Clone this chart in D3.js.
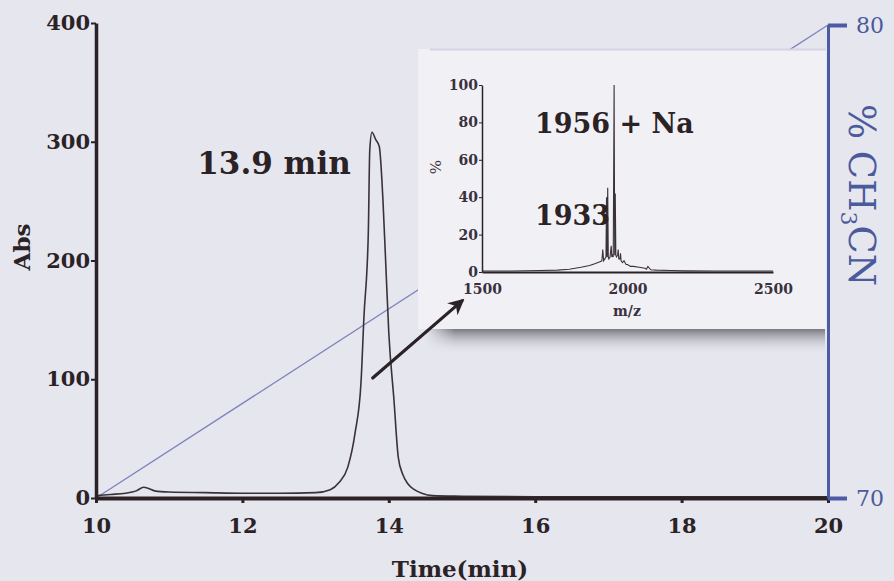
<!DOCTYPE html>
<html>
<head>
<meta charset="utf-8">
<script src="https://cdn.jsdelivr.net/npm/d3@7"></script>
<style>
  html, body { margin: 0; padding: 0; background: #e6e6ee; }
  svg { display: block; }
</style>
</head>
<body>
<svg id="chart" width="894" height="581"></svg>
<script>
// HPLC trace (Abs vs time)
const timeMin = [10.0, 10.2, 10.4, 10.55, 10.65, 10.72, 10.8, 11.0, 11.5, 12.0, 12.5, 13.0, 13.2, 13.32, 13.44, 13.54, 13.62, 13.66, 13.72, 13.74, 13.77, 13.82, 13.87, 13.92, 13.96, 14.0, 14.07, 14.13, 14.19, 14.26, 14.35, 14.45, 14.6, 15.0, 16.0, 17.0, 18.0, 19.0, 20.0];
const absVal  = [2, 3, 4, 6, 9, 8, 6, 5, 4.5, 4, 4, 4.5, 7, 13, 26, 55, 97, 152, 223, 293, 308, 302, 296, 251, 195, 139, 83, 34, 20, 12, 7, 4, 2, 1.5, 1, 1, 1, 1, 1];

// gradient (% CH3CN)
const gradTime = [10, 20];
const gradPct = [70, 80];

// axes ticks
const timeTicks = [10, 12, 14, 16, 18, 20];
const absTicks = [0, 100, 200, 300, 400];
const pctTicks = [70, 80];

// inset mass spectrum
const mzVal  = [1500, 1600, 1700, 1760, 1800, 1840, 1870, 1890, 1905, 1912, 1915, 1918, 1922, 1926, 1928, 1930, 1932, 1934, 1936, 1940, 1944, 1946, 1948, 1951, 1954, 1956, 1958, 1960, 1962, 1966, 1968, 1970, 1974, 1976, 1978, 1983, 1988, 1995, 2000, 2010, 2020, 2040, 2060, 2065, 2070, 2080, 2100, 2150, 2200, 2300, 2500];
const relInt = [0.5, 0.5, 0.8, 1.0, 1.5, 2.5, 3.5, 4.5, 5.5, 6, 12, 6, 7, 8, 40, 8, 45, 8, 7, 8, 14, 8, 9, 8, 100, 9, 42, 9, 8, 9, 12, 7, 7, 10, 6, 5, 6, 4, 4, 3, 3, 2.5, 2, 1.5, 3, 1.2, 1, 0.8, 0.6, 0.5, 0.5];
const mzTicks = [1500, 2000, 2500];
const intTicks = [0, 20, 40, 60, 80, 100];

const svg = d3.select("#chart");
const ink = "#2b2226";
const blue = "#4d5aa4";
const serif = "'DejaVu Serif', serif";

svg.append("rect").attr("width", 894).attr("height", 581).attr("fill", "#e6e6ee");

const x = d3.scaleLinear().domain([10, 20]).range([96, 828]);
const y = d3.scaleLinear().domain([0, 400]).range([498, 23]);
const yR = d3.scaleLinear().domain([70, 80]).range([498, 25]);

// gradient line (behind inset)
svg.append("path")
  .datum(d3.zip(gradTime, gradPct))
  .attr("fill", "none")
  .attr("stroke", "#7d83bd")
  .attr("stroke-width", 1.3)
  .attr("d", d3.line().x(d => x(d[0])).y(d => yR(d[1])));

// inset panel
const defs = svg.append("defs");
const sh = defs.append("linearGradient").attr("id", "shadow").attr("x1", 0).attr("y1", 0).attr("x2", 0).attr("y2", 1);
sh.append("stop").attr("offset", "0%").attr("stop-color", "#55555f").attr("stop-opacity", 0.75);
sh.append("stop").attr("offset", "100%").attr("stop-color", "#e6e6ee").attr("stop-opacity", 0);
const shl = defs.append("linearGradient").attr("id", "shadowL").attr("x1", 0).attr("y1", 0).attr("x2", 1).attr("y2", 0);
shl.append("stop").attr("offset", "0%").attr("stop-color", "#e6e6ee").attr("stop-opacity", 1);
shl.append("stop").attr("offset", "100%").attr("stop-color", "#e6e6ee").attr("stop-opacity", 0);

svg.append("rect").attr("x", 425).attr("y", 329).attr("width", 400).attr("height", 26).attr("fill", "url(#shadow)");
svg.append("rect").attr("x", 425).attr("y", 329).attr("width", 30).attr("height", 26).attr("fill", "url(#shadowL)");
svg.append("rect").attr("x", 418).attr("y", 49).attr("width", 408).attr("height", 280).attr("fill", "#f1f1f5");
svg.append("line").attr("x1", 430).attr("x2", 826).attr("y1", 49.5).attr("y2", 49.5).attr("stroke", "#d4d4e6").attr("stroke-width", 2);

// main trace
svg.append("path")
  .datum(d3.zip(timeMin, absVal))
  .attr("fill", "none")
  .attr("stroke", "#3b3238")
  .attr("stroke-width", 1.6)
  .attr("d", d3.line().x(d => x(d[0])).y(d => y(d[1])).curve(d3.curveMonotoneX));

// left axis
const gl = svg.append("g").attr("transform", "translate(96,0)")
  .call(d3.axisLeft(y).tickValues(absTicks).tickSize(5).tickSizeOuter(0).tickPadding(1));
gl.select(".domain").attr("stroke", ink).attr("stroke-width", 3.5);
gl.selectAll(".tick line").attr("stroke", ink).attr("stroke-width", 2);
gl.selectAll(".tick text").attr("fill", ink).attr("font-family", serif).attr("font-weight", "bold").attr("font-size", 21);

// bottom axis
const gb = svg.append("g").attr("transform", "translate(0,498)")
  .call(d3.axisBottom(x).tickValues(timeTicks).tickSize(5).tickSizeOuter(0).tickPadding(15));
gb.select(".domain").attr("stroke", ink).attr("stroke-width", 4);
gb.selectAll(".tick line").attr("stroke", ink).attr("stroke-width", 3);
gb.selectAll(".tick text").attr("fill", ink).attr("font-family", serif).attr("font-weight", "bold").attr("font-size", 21);

// right axis
const gr = svg.append("g").attr("transform", "translate(828,0)")
  .call(d3.axisRight(yR).tickValues(pctTicks).tickSize(19).tickSizeOuter(0).tickPadding(9));
gr.select(".domain").attr("stroke", blue).attr("stroke-width", 3);
gr.selectAll(".tick line").attr("stroke", blue).attr("stroke-width", 4);
gr.selectAll(".tick text").attr("fill", "#4a5a9c").attr("font-family", serif).attr("font-size", 22);

// axis titles
svg.append("text").attr("transform", "translate(30,247) rotate(-90)")
  .attr("text-anchor", "middle").attr("fill", ink)
  .attr("font-family", serif).attr("font-weight", "bold").attr("font-size", 23)
  .text("Abs");
svg.append("text").attr("x", 460).attr("y", 577)
  .attr("text-anchor", "middle").attr("fill", ink)
  .attr("font-family", serif).attr("font-weight", "bold").attr("font-size", 23)
  .text("Time(min)");
const rt = svg.append("text").attr("transform", "translate(849,195) rotate(90)")
  .attr("text-anchor", "middle").attr("fill", "#4a5a9c")
  .attr("font-family", serif).attr("font-size", 37);
rt.append("tspan").text("% CH");
rt.append("tspan").attr("font-size", 22).attr("dy", 8).text("3");
rt.append("tspan").attr("dy", -8).text("CN");

// peak label and arrow
svg.append("text").attr("x", 274).attr("y", 174)
  .attr("text-anchor", "middle").attr("fill", ink)
  .attr("font-family", serif).attr("font-weight", "bold").attr("font-size", 31)
  .text("13.9 min");

const arrowFrom = [13.78, 101];
const arrowTo = [15.0, 166];
defs.append("marker").attr("id", "head").attr("viewBox", "0 0 10 10")
  .attr("refX", 8).attr("refY", 5).attr("markerWidth", 5).attr("markerHeight", 5)
  .attr("orient", "auto")
  .append("path").attr("d", "M0,0 L10,5 L0,10 L3,5 Z").attr("fill", ink);
svg.append("line")
  .attr("x1", x(arrowFrom[0])).attr("y1", y(arrowFrom[1]))
  .attr("x2", x(arrowTo[0])).attr("y2", y(arrowTo[1]))
  .attr("stroke", ink).attr("stroke-width", 3.2).attr("stroke-linecap", "round")
  .attr("marker-end", "url(#head)");

// inset spectrum
const xi = d3.scaleLinear().domain([1500, 2500]).range([482, 773]);
const yi = d3.scaleLinear().domain([0, 100]).range([272, 85]);

svg.append("path")
  .datum(d3.zip(mzVal, relInt))
  .attr("fill", "none")
  .attr("stroke", "#3b3238")
  .attr("stroke-width", 1.1)
  .attr("d", d3.line().x(d => xi(d[0])).y(d => yi(d[1])));

const gil = svg.append("g").attr("transform", "translate(482,0)")
  .call(d3.axisLeft(yi).tickValues(intTicks).tickSize(3).tickSizeOuter(0).tickPadding(1));
gil.select(".domain").attr("stroke", ink).attr("stroke-width", 1.5);
gil.selectAll(".tick line").attr("stroke", ink);
gil.selectAll(".tick text").attr("fill", "#3a3040").attr("font-family", serif).attr("font-weight", "bold").attr("font-size", 14);

const gib = svg.append("g").attr("transform", "translate(0,272)")
  .call(d3.axisBottom(xi).tickValues(mzTicks).tickFormat(d3.format("d")).tickSize(0).tickPadding(12));
gib.select(".domain").attr("stroke", ink).attr("stroke-width", 2);
gib.selectAll(".tick text").attr("fill", "#3a3040").attr("font-family", serif).attr("font-weight", "bold").attr("font-size", 14);

svg.append("text").attr("x", 627).attr("y", 316)
  .attr("text-anchor", "middle").attr("fill", "#3a3040")
  .attr("font-family", serif).attr("font-weight", "bold").attr("font-size", 14)
  .text("m/z");
svg.append("text").attr("transform", "translate(441,167) rotate(-90)")
  .attr("text-anchor", "middle").attr("fill", "#3a3040")
  .attr("font-family", serif).attr("font-size", 15)
  .text("%");

svg.append("text").attr("x", xi(1682)).attr("y", yi(74.3))
  .attr("fill", ink).attr("font-family", serif).attr("font-weight", "bold").attr("font-size", 27)
  .text("1956 + Na");
svg.append("text").attr("x", xi(1682)).attr("y", yi(25))
  .attr("fill", ink).attr("font-family", serif).attr("font-weight", "bold").attr("font-size", 27)
  .text("1933");
</script>
</body>
</html>
